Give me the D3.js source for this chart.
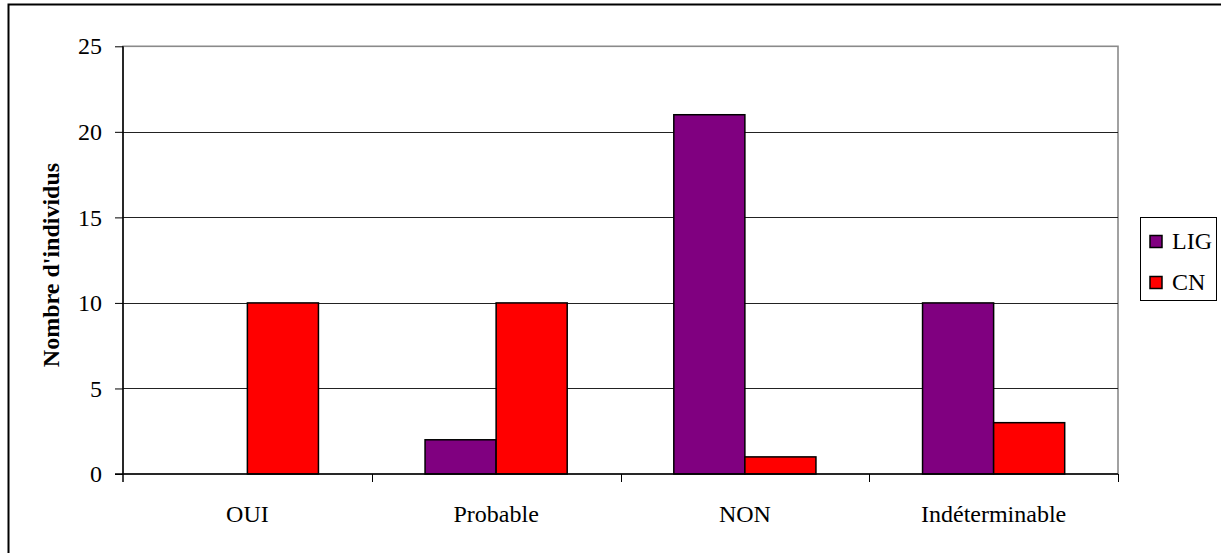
<!DOCTYPE html>
<html>
<head>
<meta charset="utf-8">
<script src="https://cdn.jsdelivr.net/npm/d3@7"></script>
<style>
  html, body { margin: 0; padding: 0; background: #fff; }
  svg { display: block; }
  text { font-family: "Liberation Serif", "Times New Roman", serif; }
</style>
</head>
<body>
<svg id="chart" width="1221" height="553"></svg>
<script>
const categories = ["OUI", "Probable", "NON", "Indéterminable"];
const seriesNames = ["LIG", "CN"];
const ligValues = [0, 2, 21, 10];
const cnValues = [10, 10, 1, 3];
const yTicks = [0, 5, 10, 15, 20, 25];
const colors = ["#800080", "#FF0000"];
const yTitle = "Nombre d'individus";

const svg = d3.select("#chart");
const plot = { left: 123, right: 1118, top: 46.3, bottom: 474 };

// outer border (right and bottom extend beyond the picture)
svg.append("rect")
  .attr("x", 8.5).attr("y", 4.5)
  .attr("width", 1300).attr("height", 700)
  .attr("fill", "none").attr("stroke", "#000").attr("stroke-width", 2);

const x = d3.scaleBand().domain(categories).range([plot.left, plot.right]).padding(0);
const y = d3.scaleLinear().domain([0, 25]).range([plot.bottom, plot.top]);
const barW = x.bandwidth() / 3.5;
const xs = d3.scaleBand().domain(seriesNames).range([0, 2 * barW]).padding(0);

// plot area border (gray)
svg.append("rect")
  .attr("x", plot.left).attr("y", y(25))
  .attr("width", plot.right - plot.left).attr("height", plot.bottom - y(25))
  .attr("fill", "none").attr("stroke", "#8a8a8a").attr("stroke-width", 1.6);

// gridlines
svg.append("g").selectAll("line")
  .data(yTicks.filter(d => d > 0 && d < 25))
  .join("line")
  .attr("x1", plot.left).attr("x2", plot.right)
  .attr("y1", d => Math.round(y(d)) + 0.5).attr("y2", d => Math.round(y(d)) + 0.5)
  .attr("stroke", "#222").attr("stroke-width", 1);

// bars
const data = categories.map((c, i) => ({ cat: c, vals: [ligValues[i], cnValues[i]] }));
const groups = svg.append("g").selectAll("g")
  .data(data).join("g")
  .attr("transform", d => `translate(${x(d.cat) + x.bandwidth() / 2 - barW},0)`);
groups.selectAll("rect")
  .data(d => d.vals.map((v, j) => ({ v, s: seriesNames[j], j })).filter(e => e.v > 0))
  .join("rect")
  .attr("x", d => xs(d.s))
  .attr("y", d => y(d.v))
  .attr("width", xs.bandwidth())
  .attr("height", d => y(0) - y(d.v))
  .attr("fill", d => colors[d.j])
  .attr("stroke", "#000").attr("stroke-width", 1.5);

// y axis
const yAxis = d3.axisLeft(y).tickValues(yTicks).tickSize(8).tickPadding(13).tickFormat(d3.format("d"));
const gy = svg.append("g").attr("transform", `translate(${plot.left},0)`).call(yAxis);
gy.select(".domain").remove();
gy.selectAll(".tick line").attr("stroke", "#000");
gy.selectAll(".tick text")
  .attr("font-family", "Liberation Serif, Times New Roman, serif")
  .attr("font-size", 24).attr("fill", "#000");
svg.append("line")
  .attr("x1", plot.left).attr("x2", plot.left)
  .attr("y1", y(25)).attr("y2", plot.bottom + 8)
  .attr("stroke", "#000").attr("stroke-width", 1.5);

// x axis
svg.append("line")
  .attr("x1", plot.left - 8).attr("x2", plot.right)
  .attr("y1", plot.bottom).attr("y2", plot.bottom)
  .attr("stroke", "#000").attr("stroke-width", 1.5);
const bounds = categories.map(c => x(c)).concat([x(categories[categories.length - 1]) + x.bandwidth()]);
svg.append("g").selectAll("line").data(bounds.slice(1)).join("line")
  .attr("x1", d => Math.round(d) + 0.5).attr("x2", d => Math.round(d) + 0.5)
  .attr("y1", plot.bottom).attr("y2", plot.bottom + 8)
  .attr("stroke", "#000").attr("stroke-width", 1);
svg.append("g").selectAll("text").data(categories).join("text")
  .attr("x", d => x(d) + x.bandwidth() / 2)
  .attr("y", 522)
  .attr("text-anchor", "middle")
  .attr("font-size", 24).attr("fill", "#000")
  .text(d => d);

// y title
svg.append("text")
  .attr("transform", `translate(59,265) rotate(-90)`)
  .attr("text-anchor", "middle")
  .attr("font-size", 24).attr("font-weight", "bold").attr("fill", "#000")
  .text(yTitle);

// legend
const lg = svg.append("g");
lg.append("rect")
  .attr("x", 1140.5).attr("y", 217.5).attr("width", 76).attr("height", 83)
  .attr("fill", "#fff").attr("stroke", "#000").attr("stroke-width", 1);
const items = lg.selectAll("g").data(seriesNames).join("g")
  .attr("transform", (d, i) => `translate(0,${i * 41})`);
items.append("rect")
  .attr("x", 1150).attr("y", 235.5).attr("width", 12).attr("height", 12)
  .attr("fill", (d, i) => colors[i]).attr("stroke", "#000").attr("stroke-width", 1.5);
items.append("text")
  .attr("x", 1172).attr("y", 249)
  .attr("font-size", 24).attr("fill", "#000")
  .text(d => d);
</script>
</body>
</html>
